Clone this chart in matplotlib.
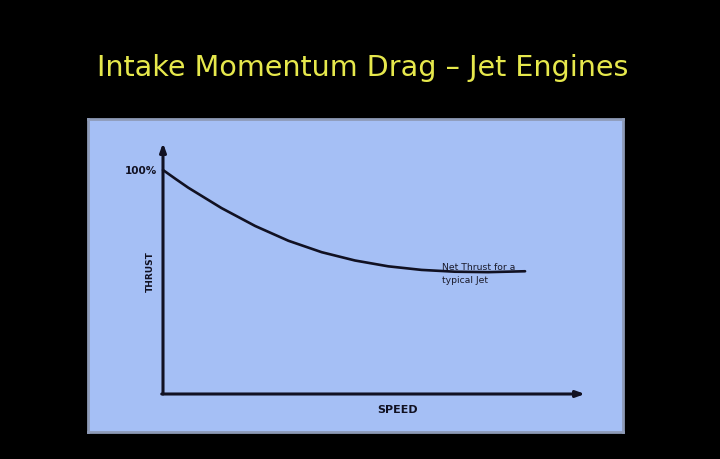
import matplotlib.pyplot as plt

# curve: speed (0..100 along the axis), thrust in %
speed  = [0, 3.0, 6.0, 13.9, 21.9, 29.8, 37.7, 45.6, 53.5, 61.4, 69.3, 77.2, 86.0]
thrust = [100, 96.0, 92.1, 83.0, 75.0, 68.4, 63.3, 59.6, 57.0, 55.4, 54.6, 54.4, 54.8]

title      = 'Intake Momentum Drag \u2013 Jet Engines'
curve_note = 'Net Thrust for a\ntypical Jet'

W, H = 720, 460
fig = plt.figure(figsize=(W/100, H/100), dpi=100, facecolor='black')

# panel in pixels: x 88..623, y 120..433
px0, px1, py0, py1 = 88, 623, 120, 433
ax = fig.add_axes([px0/W, 1 - py1/H, (px1 - px0)/W, (py1 - py0)/H])
ax.set_facecolor('#a5bff5')
for s in ax.spines.values():
    s.set_color('#8e9bb8')
    s.set_linewidth(2)
ax.set_xticks([])
ax.set_yticks([])

# pixel -> data mapping (origin at px 163, 395)
sx, sy = 4.21, 2.24
ax.set_xlim((px0 - 163)/sx, (px1 - 163)/sx)
ax.set_ylim((395 - py1)/sy, (395 - py0)/sy)

# axis arrows
arrow = dict(arrowstyle='-|>,head_length=0.5,head_width=0.18', color='#111122', lw=2.2,
             shrinkA=0, shrinkB=0)
ax.annotate('', xy=(0, (395 - 144)/sy), xytext=(0, 0), arrowprops=arrow)
ax.annotate('', xy=((585 - 163)/sx, 0), xytext=(-0.3, 0), arrowprops=arrow)

ax.plot(speed, thrust, color='#111122', lw=1.9, solid_capstyle='round',
        solid_joinstyle='round')

ax.text(-1.3, 100, '100%', ha='right', va='center', fontsize=7.5,
        fontweight='bold', color='#111122')
ax.text(-2.9, 54.9, 'THRUST', ha='center', va='center', rotation=90,
        fontsize=6.5, fontweight='bold', color='#111122')
ax.text(55.8, -6.7, 'SPEED', ha='center', va='center', fontsize=8,
        fontweight='bold', color='#111122')
ax.text(66.3, 53.9, curve_note, ha='left', va='center', fontsize=6.7,
        color='#1a1a2a', linespacing=1.6)

fig.text(363/W, 1 - 68/H, title, ha='center', va='center', fontsize=20.6,
         color='#e6e84c')

fig.savefig('out.png', dpi=100, facecolor='black')
